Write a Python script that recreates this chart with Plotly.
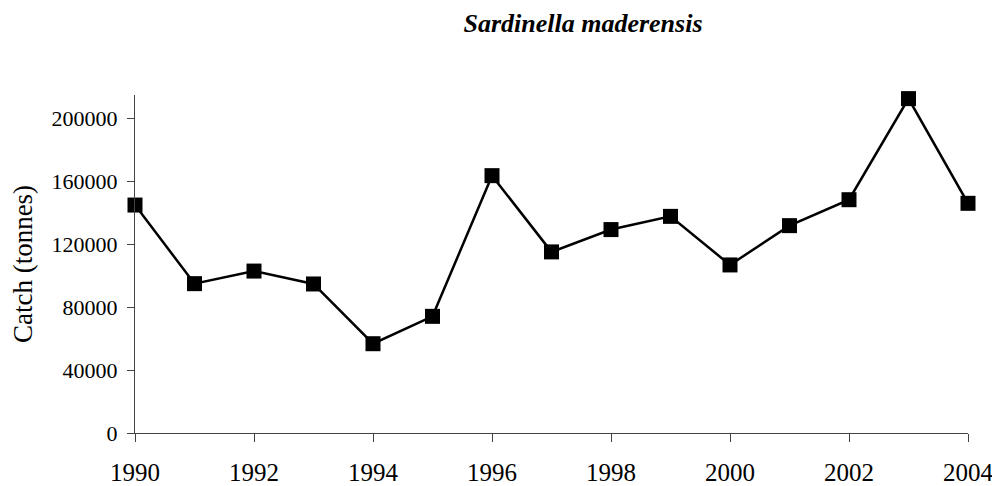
import plotly.graph_objects as go

years = [1990, 1991, 1992, 1993, 1994, 1995, 1996, 1997, 1998, 1999, 2000, 2001, 2002, 2003, 2004]
catch = [145000, 95000, 103000, 94800, 56800, 74200, 163700, 115200, 129400, 137800, 106900, 131900, 148400, 212700, 146100]
x_ticks = [1990, 1992, 1994, 1996, 1998, 2000, 2002, 2004]
y_ticks = [0, 40000, 80000, 120000, 160000, 200000]

SERIF = "Liberation Serif"
W, H = 992, 478

fig = go.Figure()
fig.add_trace(go.Scatter(
    x=years, y=catch, mode="lines+markers",
    line=dict(color="black", width=2.5),
    marker=dict(symbol="square", size=15, color="black"),
    cliponaxis=False,
))

fig.update_layout(
    width=W, height=H,
    margin=dict(l=127, r=32, t=87, b=53, autoexpand=False),
    paper_bgcolor="white", plot_bgcolor="white",
    showlegend=False,
    font=dict(family=SERIF, color="black"),
    title=dict(text="<b><i>Sardinella maderensis</i></b>", x=575 / W, xanchor="center",
               y=1 - 15 / H, yanchor="middle", font=dict(size=26, family=SERIF)),
    xaxis=dict(range=[1990, 2004], tickvals=x_ticks, ticktext=[str(t) for t in x_ticks],
               showgrid=False, zeroline=False, showline=True, linecolor="#444", linewidth=1,
               ticks="outside", ticklen=8, tickcolor="#444", tickfont=dict(size=25, family=SERIF),
               ticklabelstandoff=9, automargin=False),
    yaxis=dict(range=[0, 215000], tickvals=y_ticks, ticktext=[str(t) for t in y_ticks],
               showgrid=False, zeroline=False, showline=True, linecolor="#444", linewidth=1,
               ticks="outside", ticklen=7, tickcolor="#444", tickfont=dict(size=22, family=SERIF),
               ticklabelstandoff=5, automargin=False,
               title=dict(text="Catch (tonnes)", font=dict(size=27, family=SERIF), standoff=12)),
)

fig.write_html("out.html")
